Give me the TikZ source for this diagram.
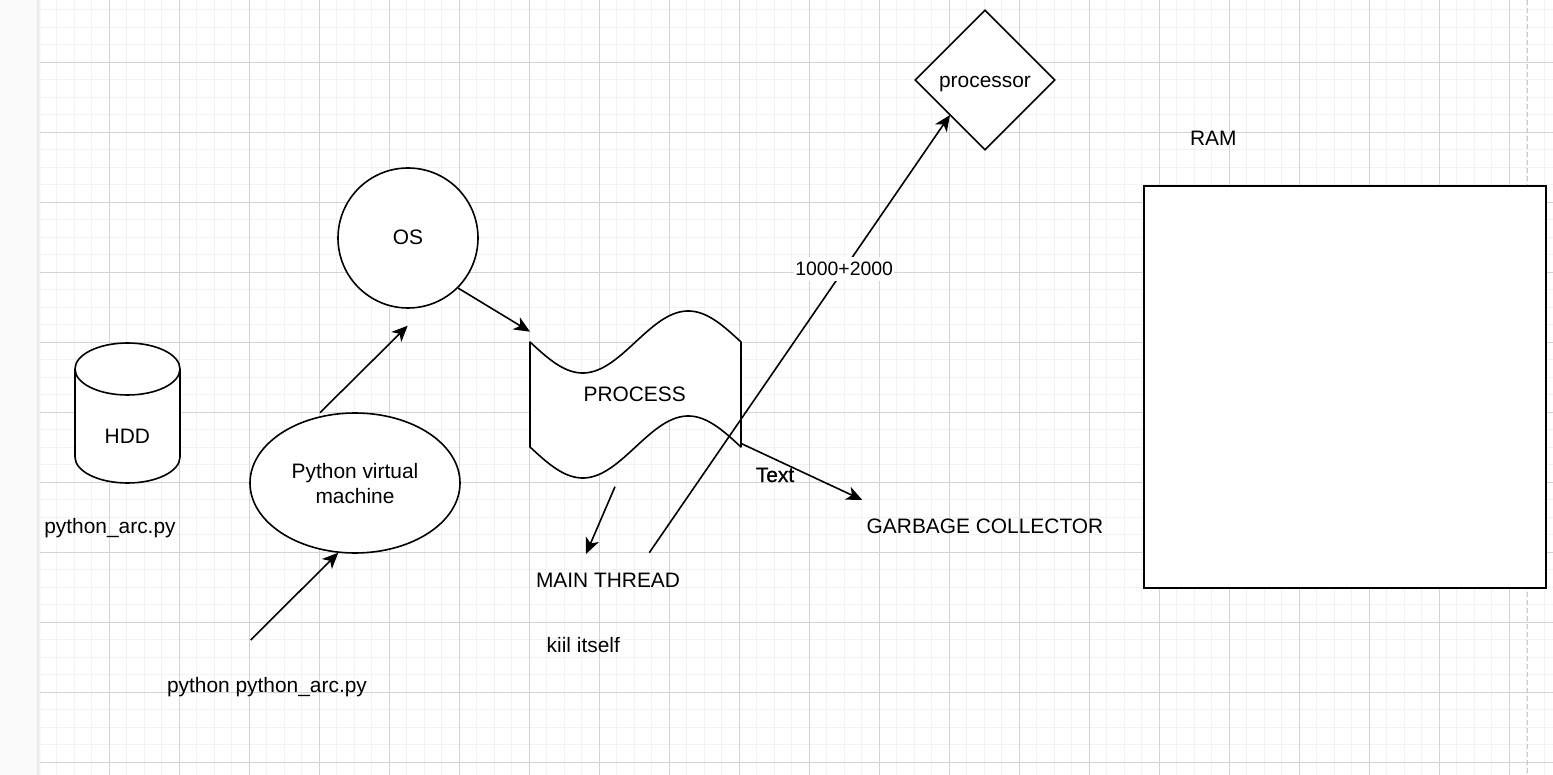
\documentclass[tikz,border=0pt]{standalone}
\usepackage{fontspec}
\setmainfont{Liberation Sans}
\newfontfamily\heavyish[FakeBold=0.8]{Liberation Sans}
\usetikzlibrary{shapes.geometric,arrows.meta}
\definecolor{gridminor}{HTML}{F2F2F2}
\definecolor{gridmajor}{HTML}{D3D3D3}
\definecolor{panel}{HTML}{FAFAFA}
\begin{document}
\begin{tikzpicture}[x=1pt,y=-1pt,
  shp/.style={draw, line width=1.6pt, fill=white},
  conn/.style={line width=1.6pt, -{Stealth[length=16pt,width=14pt,inset=4.5pt]}},
  lbl/.style={font=\fontsize{20.9}{25}\selectfont, inner sep=0pt, anchor=base},
  edgelbl/.style={font=\fontsize{19.4}{23}\selectfont, fill=white, inner xsep=1pt, inner ysep=5pt}]
\useasboundingbox (0,0) rectangle (1553,775);
\fill[white] (0,0) rectangle (1553,775);
% left panel
\fill[panel] (0,0) rectangle (40,775);
\shade[left color=panel, right color=gray!28] (35,0) rectangle (40,775);
% grid
\foreach \i in {0,...,86} \draw[gridminor, line width=1pt] ({39.3+17.5*\i},0) -- ({39.3+17.5*\i},775);
\foreach \j in {0,...,44} \draw[gridminor, line width=1pt] (40,{9.8+17.5*\j}) -- (1553,{9.8+17.5*\j});
\foreach \i in {1,...,21} \draw[gridmajor, line width=1pt] ({39.3+70*\i},0) -- ({39.3+70*\i},775);
\foreach \j in {1,...,11} \draw[gridmajor, line width=1pt] (40,{-7.7+70*\j}) -- (1553,{-7.7+70*\j});
% page break dashed line
\draw[gray!45, line width=1.5pt, dash pattern=on 5pt off 3pt] (1527.7,0) -- (1527.7,775);

% shapes
\node[shp, diamond, aspect=1, minimum width=140pt, minimum height=140pt, inner sep=0pt] (proc) at (985,80) {};
\node[shp, circle, minimum size=140pt, inner sep=0pt] (os) at (408,238) {};
\node[shp, ellipse, minimum width=210pt, minimum height=140pt, inner sep=0pt] (pvm) at (355,483) {};
\node[shp, rectangle, minimum width=402pt, minimum height=402pt, inner sep=0pt, anchor=north west] (ram) at (1143,185) {};
% HDD cylinder
\path[shp] (75,369) -- (75,457) .. controls (75,471.36) and (98.5,483) .. (127.5,483)
  .. controls (156.5,483) and (180,471.36) .. (180,457) -- (180,369)
  .. controls (180,354.64) and (156.5,343) .. (127.5,343)
  .. controls (98.5,343) and (75,354.64) .. (75,369) -- cycle;
\draw[line width=1.6pt] (75,369) .. controls (75,383.36) and (98.5,395) .. (127.5,395)
  .. controls (156.5,395) and (180,383.36) .. (180,369);
% PROCESS tape
\path[shp, line join=round] plot[domain=0:211, samples=90, smooth] ({530+\x},{342+31*sin(1.70616*\x)})
  -- plot[domain=211:0, samples=90, smooth] ({530+\x},{447+31*sin(1.70616*\x)}) -- cycle;

% texts
\node[lbl] (proctxt) at (985,87.5) {processor};
\node[lbl] (ostxt) at (408,245) {OS};
\node[lbl] (pvmA) at (355,478) {Python virtual};
\node[lbl] (pvmB) at (355,503) {machine};
\node[lbl] (ramtxt) at (1213.3,146) {RAM};
\node[lbl] (hdd) at (127.3,443) {HDD};
\node[lbl] (pyarc) at (110,533) {python\_arc.py};
\node[lbl] (pycmd) at (267,692) {python python\_arc.py};
\node[lbl] (process) at (634.7,402) {PROCESS};
\node[lbl] (mainthread) at (608,587) {MAIN THREAD};
\node[lbl] (kiil) at (583.3,652.5) {kiil itself};
\node[lbl] (gc) at (985,533) {GARBAGE COLLECTOR};
\node[lbl, font=\heavyish\fontsize{20.9}{25}\selectfont] (textlbl) at (775,482) {Text};

% connector end points
\coordinate (procin) at (530,331.7);
\coordinate (pvmtop) at (320,412.7);
\coordinate (osbelow) at (407.7,325.7);
\coordinate (cmdtop) at (250.7,640);
\coordinate (pvmbot) at (338.3,552.7);
\coordinate (procbot) at (615,486.7);
\coordinate (mtin) at (586,554);
\coordinate (mtout) at (649.3,552.7);
\coordinate (cpuin) at (950,115);
\coordinate (procright) at (740.7,443.3);
\coordinate (gcin) at (862.3,500);

% connectors
\draw[conn] (os.-45) -- (procin);
\draw[conn] (pvmtop) -- (osbelow);
\draw[conn] (cmdtop) -- (pvmbot);
\draw[conn] (procbot) -- (mtin);
\draw[conn] (mtout) -- node[edgelbl, pos=0.648] (sum) {1000+2000} (cpuin);
\draw[conn] (procright) -- (gcin);
\end{tikzpicture}
\end{document}
